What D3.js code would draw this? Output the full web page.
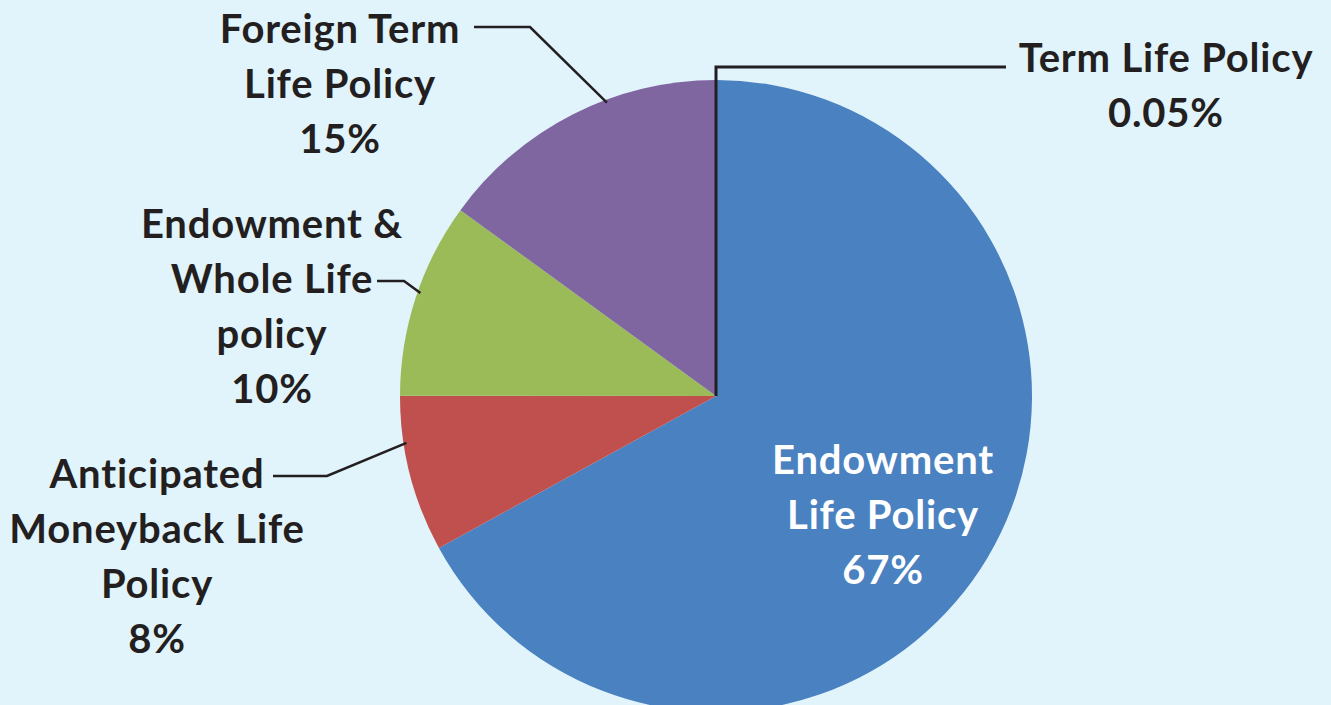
<!DOCTYPE html>
<html>
<head>
<meta charset="utf-8">
<script src="https://d3js.org/d3.v7.min.js"></script>
<style>
  html, body { margin: 0; padding: 0; background: #e1f3fb; overflow: hidden; }
  text { font-family: Lato, "Open Sans", sans-serif; font-weight: 700; }
</style>
</head>
<body>
<div id="chart"></div>
<script>
// Policy categories, in clockwise order from 12 o'clock
const categories = [
    "Term Life Policy",
    "Endowment Life Policy",
    "Anticipated Moneyback Life Policy",
    "Endowment & Whole Life policy",
    "Foreign Term Life Policy"
];
const values = [0.05, 67, 8, 10, 15];
const percentLabels = ["0.05%", "67%", "8%", "10%", "15%"];
const colors = ["#4a81c0", "#4a81c0", "#c0504d", "#9bbb59", "#8066a1"];

// Label text broken into lines as on the chart
const labelLines = [
    ["Term Life Policy"],
    ["Endowment", "Life Policy"],
    ["Anticipated", "Moneyback Life", "Policy"],
    ["Endowment &", "Whole Life", "policy"],
    ["Foreign Term", "Life Policy"]
];

const width = 1331;
const height = 705;
const cx = 716, cy = 396;
const radius = 316;
const lineGap = 55;
const textColor = "#231f20";

// label centre x, first baseline, leader anchor angle (deg), elbow and end
const labelLayout = [
    { x: 1166, y: 72, anchor: null, elbow: [716, 67], end: [1006, 67] },
    { x: 883, y: 474, inside: true },
    { x: 157, y: 488, anchor: 261.4, elbow: [327, 476], end: [273, 476] },
    { x: 272, y: 238, anchor: 289.2, elbow: [404, 281], end: [377, 281] },
    { x: 340, y: 43, anchor: 339.6, elbow: [530, 27], end: [474, 27] }
];

const svg = d3.select("#chart")
    .append("svg")
    .attr("width", width)
    .attr("height", height);

svg.append("rect")
    .attr("width", width)
    .attr("height", height)
    .attr("fill", "#e1f3fb");

const pie = d3.pie().sort(null).value(d => d)(values);
const arc = d3.arc().innerRadius(0).outerRadius(radius);

const g = svg.append("g").attr("transform", `translate(${cx},${cy})`);

g.selectAll("path.slice")
    .data(pie)
    .enter()
    .append("path")
    .attr("class", "slice")
    .attr("d", arc)
    .attr("fill", (d, i) => colors[i]);

// Leader lines
const line = d3.line();
labelLayout.forEach((l, i) => {
    if (l.inside) return;
    let start;
    if (l.anchor === null) {
        start = [cx, cy];
    } else {
        const a = l.anchor * Math.PI / 180;
        start = [cx + (radius - 3) * Math.sin(a), cy - (radius - 3) * Math.cos(a)];
    }
    svg.append("path")
        .attr("d", line([start, l.elbow, l.end]))
        .attr("fill", "none")
        .attr("stroke", textColor)
        .attr("stroke-width", i === 0 ? 3 : 2.5)
        .attr("stroke-linejoin", "miter");
});

// Labels
labelLayout.forEach((l, i) => {
    const lines = labelLines[i].concat([percentLabels[i]]);
    const t = svg.append("text")
        .attr("text-anchor", "middle")
        .attr("font-size", 40)
        .attr("letter-spacing", 0.8)
        .attr("fill", l.inside ? "#ffffff" : textColor);
    lines.forEach((s, j) => {
        t.append("tspan")
            .attr("x", l.x)
            .attr("y", l.y + j * lineGap)
            .text(s);
    });
});
</script>
</body>
</html>
